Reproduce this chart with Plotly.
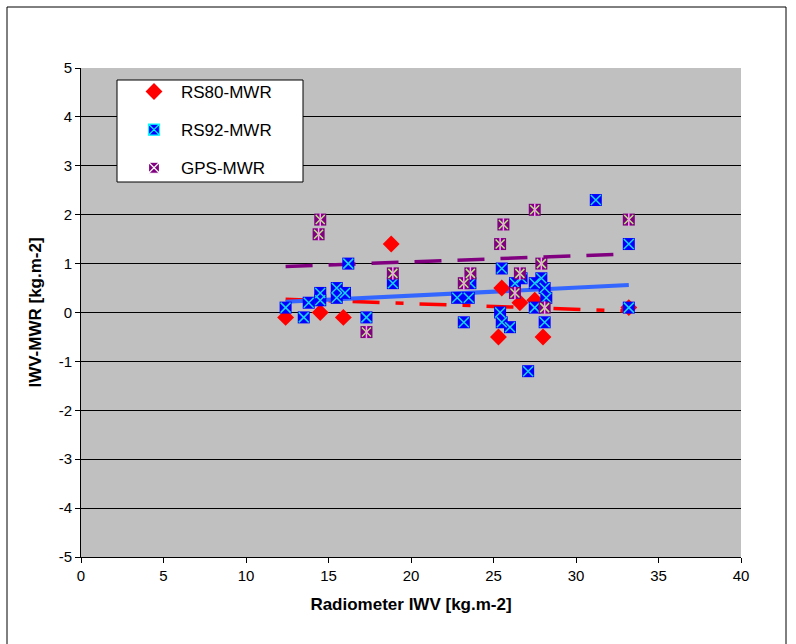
import plotly.graph_objects as go

# ---- data ----
rs80_x = [12.4, 14.5, 15.9, 18.8, 25.3, 25.5, 26.6, 27.5, 28.0, 33.2]
rs80_y = [-0.1, 0.0, -0.1, 1.4, -0.5, 0.5, 0.2, 0.25, -0.5, 0.1]

rs92_x = [12.4, 13.5, 13.8, 14.5, 14.5, 15.5, 15.5, 16.0, 16.2, 17.3, 18.9,
          22.8, 23.5, 23.6, 23.2, 25.5, 25.4, 25.5, 26.0, 26.3, 26.7, 27.5,
          27.9, 28.1, 28.2, 27.5, 28.1, 27.1, 31.2, 33.2, 33.2]
rs92_y = [0.1, -0.1, 0.2, 0.4, 0.25, 0.5, 0.3, 0.4, 1.0, -0.1, 0.6,
          0.3, 0.3, 0.6, -0.2, 0.9, 0.0, -0.2, -0.3, 0.6, 0.7, 0.6,
          0.7, 0.5, 0.3, 0.1, -0.2, -1.2, 2.3, 1.4, 0.1]

gps_x = [14.5, 14.4, 17.3, 18.9, 23.2, 23.6, 25.4, 25.6, 27.5, 26.6, 26.3,
         27.9, 28.1, 33.2]
gps_y = [1.9, 1.6, -0.4, 0.8, 0.6, 0.8, 1.4, 1.8, 2.1, 0.8, 0.4,
         1.0, 0.1, 1.9]

# linear trend lines (endpoints)
trend_x = [12.4, 33.2]
trend_rs80 = [0.27, 0.03]
trend_rs92 = [0.22, 0.56]
trend_gps = [0.94, 1.20]

x_ticks = list(range(0, 41, 5))
y_ticks = list(range(-5, 6, 1))

FONT = "Liberation Sans, Arial, sans-serif"

fig = go.Figure()

# trend lines
fig.add_trace(go.Scatter(x=trend_x, y=trend_rs80, mode="lines", showlegend=False,
                         line=dict(color="#FF0000", width=3.5, dash="27px,16px,8px,16px"),
                         hoverinfo="skip"))
fig.add_trace(go.Scatter(x=trend_x, y=trend_rs92, mode="lines", showlegend=False,
                         line=dict(color="#3366FF", width=4), hoverinfo="skip"))
fig.add_trace(go.Scatter(x=trend_x, y=trend_gps, mode="lines", showlegend=False,
                         line=dict(color="#800080", width=3.5, dash="27px,16px"),
                         hoverinfo="skip"))

# markers
fig.add_trace(go.Scatter(x=rs80_x, y=rs80_y, mode="markers", showlegend=False,
                         marker=dict(symbol="diamond", size=13, color="#FF0000",
                                     line=dict(width=0))))
fig.add_trace(go.Scatter(x=rs92_x, y=rs92_y, mode="markers", showlegend=False,
                         marker=dict(symbol="square", size=12, color="#0000FF",
                                     line=dict(width=0))))
fig.add_trace(go.Scatter(x=rs92_x, y=rs92_y, mode="markers", showlegend=False,
                         hoverinfo="skip",
                         marker=dict(symbol="x-thin-open", size=10,
                                     line=dict(width=1.5, color="#00FFFF"))))
fig.add_trace(go.Scatter(x=gps_x, y=gps_y, mode="markers", showlegend=False,
                         marker=dict(symbol="square", size=12, color="#800080",
                                     line=dict(width=0))))
fig.add_trace(go.Scatter(x=gps_x, y=gps_y, mode="markers", showlegend=False,
                         hoverinfo="skip",
                         marker=dict(symbol="x-thin-open", size=9,
                                     line=dict(width=1.5, color="#FFFFFF"))))
fig.add_trace(go.Scatter(x=gps_x, y=gps_y, mode="markers", showlegend=False,
                         hoverinfo="skip",
                         marker=dict(symbol="line-ns-open", size=9,
                                     line=dict(width=1.5, color="#FFFFFF"))))

# legend entries
fig.add_trace(go.Scatter(x=[None], y=[None], mode="markers", name="RS80-MWR",
                         legendgroup="a",
                         marker=dict(symbol="diamond", size=13, color="#FF0000",
                                     line=dict(width=0))))
fig.add_trace(go.Scatter(x=[None], y=[None], mode="markers", name="RS92-MWR",
                         legendgroup="b",
                         marker=dict(symbol="square-x", size=11, color="#0000FF",
                                     line=dict(width=1.2, color="#00FFFF"))))
fig.add_trace(go.Scatter(x=[None], y=[None], mode="markers", name="GPS-MWR",
                         legendgroup="c",
                         marker=dict(symbol="square-x", size=11, color="#800080",
                                     line=dict(width=1.2, color="#FFFFFF"))))

W, H = 796, 644
L, R, T, B = 81, 741, 68, 557
pw, ph = R - L, B - T

fig.update_layout(
    width=W, height=H,
    margin=dict(l=L, r=W - R, t=T, b=H - B),
    paper_bgcolor="#FFFFFF",
    plot_bgcolor="#C0C0C0",
    font=dict(family=FONT, size=15, color="#000000"),
    showlegend=True,
    legend=dict(
        x=(127 - L) / pw, y=(B - 74) / ph, xanchor="left", yanchor="top",
        bgcolor="rgba(0,0,0,0)", borderwidth=0,
        font=dict(family=FONT, size=17),
        traceorder="grouped", tracegroupgap=13,
        itemwidth=44,
    ),
    xaxis=dict(
        range=[0, 40], tickvals=x_ticks, ticktext=[str(v) for v in x_ticks],
        showgrid=False, zeroline=False,
        showline=True, linecolor="#000000", linewidth=1,
        ticks="outside", ticklen=5, tickcolor="#000000",
        tickfont=dict(family=FONT, size=15),
        title=dict(text="<b>Radiometer IWV [kg.m-2]</b>",
                   font=dict(family=FONT, size=17), standoff=15),
    ),
    yaxis=dict(
        range=[-5, 5], tickvals=y_ticks, ticktext=[str(v) for v in y_ticks],
        showgrid=True, gridcolor="#000000", gridwidth=1,
        zeroline=False,
        showline=True, linecolor="#000000", linewidth=1,
        ticks="outside", ticklen=5, tickcolor="#000000",
        tickfont=dict(family=FONT, size=15),
        title=dict(text="<b>IWV-MWR [kg.m-2]</b>",
                   font=dict(family=FONT, size=17), standoff=12),
    ),
    shapes=[
        dict(type="rect", xref="paper", yref="paper",
             x0=(7 - L) / pw, x1=(786 - L) / pw,
             y0=(B - 660) / ph, y1=(B - 7) / ph,
             line=dict(color="#000000", width=1), fillcolor="rgba(0,0,0,0)",
             layer="below"),
        dict(type="rect", xref="paper", yref="paper",
             x0=(117 - L) / pw, x1=(303 - L) / pw,
             y0=(B - 182) / ph, y1=(B - 80) / ph,
             line=dict(color="#000000", width=1), fillcolor="#FFFFFF",
             layer="above"),
    ],
)

fig.write_html("out.html")
